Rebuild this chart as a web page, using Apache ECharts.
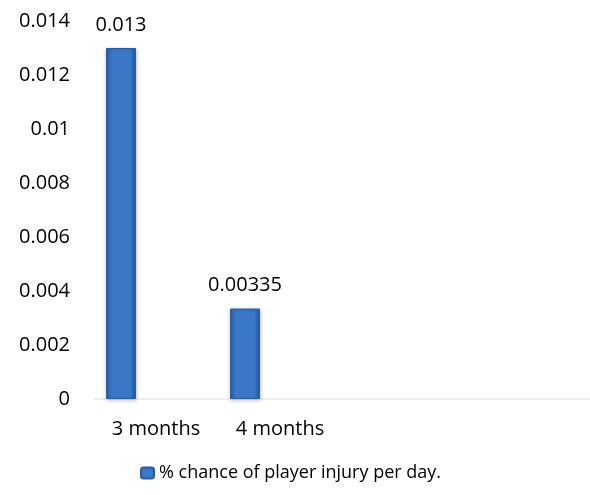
<!DOCTYPE html>
<html>
<head>
<meta charset="utf-8">
<script src="https://cdn.jsdelivr.net/npm/echarts@6/dist/echarts.min.js"></script>
<style>
  html, body { margin: 0; padding: 0; background: #fff; }
  #main { width: 590px; height: 495px; }
</style>
</head>
<body>
<div id="main"></div>
<script>
// data
const categories = ['3 months', '4 months', '', ''];
const injuryChance = [0.013, 0.00335, null, null];
const seriesName = '% chance of player injury per day.';

const myChart = echarts.init(document.getElementById('main'));

// bevelled blue look like the office 3d bar
const barColor = new echarts.graphic.LinearGradient(0, 0, 1, 0, [
  { offset: 0, color: '#2b5fa8' },
  { offset: 0.2, color: '#3b79c8' },
  { offset: 0.8, color: '#3b79c8' },
  { offset: 1, color: '#24569c' },
]);

const options = {
  textStyle: { fontFamily: 'Open Sans' },
  grid: {
    top: 21,
    left: 94,
    right: 0,
    bottom: 96,
  },
  xAxis: {
    type: 'category',
    data: categories,
    axisLine: { lineStyle: { color: '#eeeeee', width: 2 } },
    axisTick: { show: false },
    axisLabel: {
      color: '#000',
      fontSize: 20,
      margin: 20,
    },
  },
  yAxis: {
    type: 'value',
    min: 0,
    max: 0.014,
    interval: 0.002,
    splitLine: { show: false },
    axisLine: { show: false },
    axisLabel: {
      color: '#000',
      fontSize: 20,
      margin: 24,
    },
  },
  legend: {
    data: [seriesName],
    bottom: 13,
    left: 140,
    padding: 0,
    itemWidth: 13,
    itemHeight: 11,
    itemGap: 4,
    textStyle: { color: '#000', fontSize: 18 },
  },
  series: [
    {
      name: seriesName,
      type: 'bar',
      data: injuryChance,
      barWidth: 30,
      barGap: '133%',
      itemStyle: {
        color: barColor,
        borderColor: '#2a5aa0',
        borderWidth: 1,
        shadowColor: 'rgba(0,0,0,0.25)',
        shadowBlur: 4,
        shadowOffsetY: 1,
      },
      label: {
        show: true,
        position: 'top',
        distance: 13,
        color: '#000',
        fontSize: 20,
        formatter: (p) => String(p.value),
      },
    },
    {
      // empty slot so the bar sits left of the category centre
      name: 'spacer',
      type: 'bar',
      data: [null, null, null, null],
      barWidth: 30,
    },
  ],
};
myChart.setOption(options);
</script>
</body>
</html>
